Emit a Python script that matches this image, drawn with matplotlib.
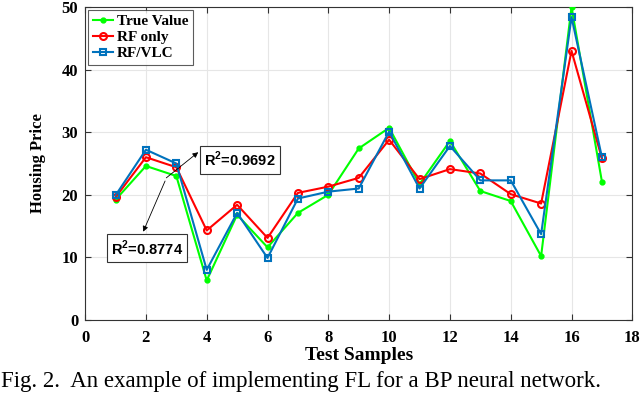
import numpy as np
import matplotlib.pyplot as plt

samples = np.arange(1, 18)
true_value = [19.2, 24.6, 23.0, 6.3, 16.8, 11.6, 17.1, 20.0, 27.4, 30.7, 21.7, 28.6, 20.6, 19.0, 10.2, 50.0, 22.1]
rf_only = [19.6, 26.0, 24.4, 14.3, 18.4, 13.1, 20.3, 21.3, 22.7, 28.8, 22.5, 24.1, 23.4, 20.1, 18.6, 43.0, 25.8]
rf_vlc = [19.9, 27.2, 25.0, 8.0, 17.1, 9.9, 19.4, 20.5, 21.0, 30.1, 21.0, 27.8, 22.3, 22.3, 13.7, 48.4, 26.0]

plt.rcParams['font.family'] = ['Liberation Serif', 'DejaVu Serif']
plt.rcParams['mathtext.fontset'] = 'custom'
plt.rcParams['mathtext.rm'] = 'Liberation Sans:bold'
plt.rcParams['mathtext.bf'] = 'Liberation Sans:bold'

fig = plt.figure(figsize=(6.4, 3.93), dpi=100)
ax = fig.add_axes([0.133, 0.186, 0.855, 0.796])

ax.plot(samples, true_value, color='#00ff00', lw=1.5, marker='o', ms=3.5, label='True Value', zorder=3)
ax.plot(samples, rf_only, color='#ff0000', lw=1.5, marker='o', ms=5, mfc='none', mew=1.5, label='RF only', zorder=3)
ax.plot(samples, rf_vlc, color='#0072bd', lw=1.5, marker='s', ms=4.5, mfc='none', mew=1.5, label='RF/VLC', zorder=3)

ax.set_xlim(0, 18)
ax.set_ylim(0, 50)
ax.set_xticks(np.arange(0, 19, 2))
ax.set_yticks(np.arange(0, 51, 10))
ax.grid(True, color='#e6e6e6', lw=0.8)
ax.set_axisbelow(True)
ax.tick_params(direction='in', top=True, right=True, length=4, color='#333333', labelsize=12)
ax.tick_params(axis='x', pad=7)
ax.tick_params(axis='y', pad=5)
for lab in ax.get_xticklabels() + ax.get_yticklabels():
    lab.set_fontweight('bold')
for s in ax.spines.values():
    s.set_color('#333333')
    s.set_linewidth(0.8)

ax.set_xlabel('Test Samples', fontsize=14, fontweight='bold', labelpad=1)
ax.set_ylabel('Housing Price', fontsize=12, fontweight='bold', labelpad=11)

leg = ax.legend(loc='upper left', prop={'weight': 'bold', 'size': 11},
                fancybox=False, edgecolor='#333333', handlelength=1.3,
                handletextpad=0.3, borderpad=0.3, labelspacing=0.15,
                borderaxespad=0.2)
leg.get_frame().set_linewidth(0.8)

box = dict(boxstyle='square,pad=0.3', fc='white', ec='#333333', lw=0.8)
arrow = dict(arrowstyle='-|>', color='black', lw=0.6, mutation_scale=8, shrinkA=0, shrinkB=0)
ax.annotate('', xy=(3.72, 26.8), xytext=(2.67, 22.7), arrowprops=arrow)
ax.text(3.92, 25.6, 'R$^2$=0.9692', fontsize=10.5, ha='left', va='center',
        family='Liberation Sans', fontweight='bold', bbox=box)
ax.annotate('', xy=(1.91, 14.1), xytext=(2.63, 22.2), arrowprops=arrow)
ax.text(0.85, 11.5, 'R$^2$=0.8774', fontsize=10.5, ha='left', va='center',
        family='Liberation Sans', fontweight='bold', bbox=box)

fig.text(0.002, 0.03, 'Fig. 2.  An example of implementing FL for a BP neural network.',
         fontsize=16.5, ha='left', va='center')

fig.savefig('out.png', dpi=100)
